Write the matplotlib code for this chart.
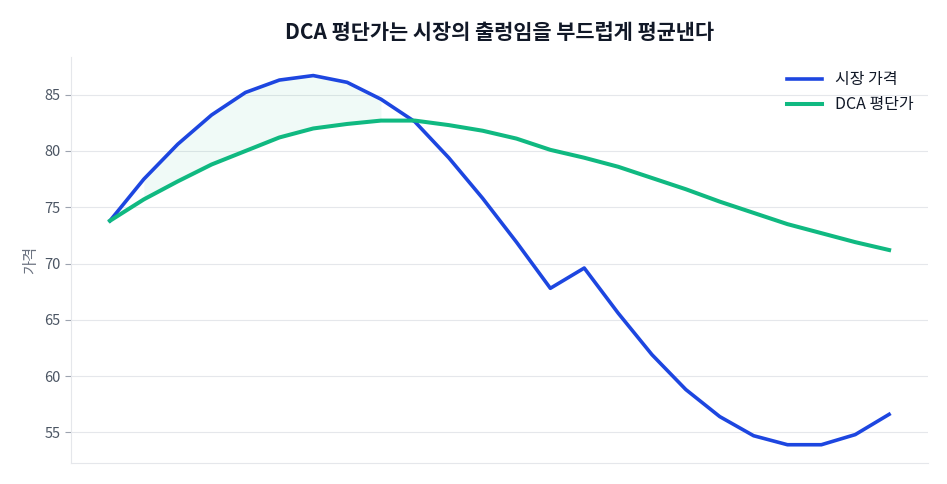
import numpy as np
import matplotlib
matplotlib.use('Agg')
import matplotlib.pyplot as plt

plt.rcParams['font.family'] = ['Noto Sans CJK KR', 'DejaVu Sans']
plt.rcParams['axes.unicode_minus'] = False

# 시장 가격과 DCA 평단가
market_price = [73.8, 77.5, 80.6, 83.2, 85.2, 86.3, 86.7, 86.1, 84.6, 82.6,
                79.4, 75.8, 71.9, 67.8, 69.6, 65.6, 61.9, 58.8, 56.4, 54.7,
                53.9, 53.9, 54.8, 56.6]
dca_avg = [73.8, 75.7, 77.3, 78.8, 80.0, 81.2, 82.0, 82.4, 82.7, 82.7,
           82.3, 81.8, 81.1, 80.1, 79.4, 78.6, 77.6, 76.6, 75.5, 74.5,
           73.5, 72.7, 71.9, 71.2]
yticks = [55, 60, 65, 70, 75, 80, 85]

x = np.arange(len(market_price))
mkt = np.array(market_price)
dca = np.array(dca_avg)

fig = plt.figure(figsize=(9.47, 4.84), dpi=100)
ax = fig.add_axes([0.075, 0.043, 0.905, 0.839])

ax.fill_between(x, mkt, dca, where=mkt > dca, color='#10b981', alpha=0.06, linewidth=0)
ax.plot(x, mkt, color='#1d46e0', lw=2.6, label='시장 가격')
ax.plot(x, dca, color='#10b981', lw=2.9, label='DCA 평단가')

ax.set_yticks(yticks)
ax.set_xticks([])
ax.tick_params(axis='y', colors='#4b5563', labelsize=10.5, length=4, color='#9ca3af')
ax.grid(axis='y', color='#e5e7eb', lw=0.8)
ax.set_axisbelow(True)
for s in ['top', 'right']:
    ax.spines[s].set_visible(False)
for s in ['left', 'bottom']:
    ax.spines[s].set_color('#e5e7eb')

ax.set_ylabel('가격', color='#6b7280', fontsize=11, labelpad=4)
ax.set_title('DCA 평단가는 시장의 출렁임을 부드럽게 평균낸다', fontsize=15,
             fontweight='bold', color='#111827', pad=13)
leg = ax.legend(loc='upper right', frameon=False, fontsize=11.5, handlelength=2.2)
for t in leg.get_texts():
    t.set_color('#111827')

fig.savefig('out.png', dpi=100)
